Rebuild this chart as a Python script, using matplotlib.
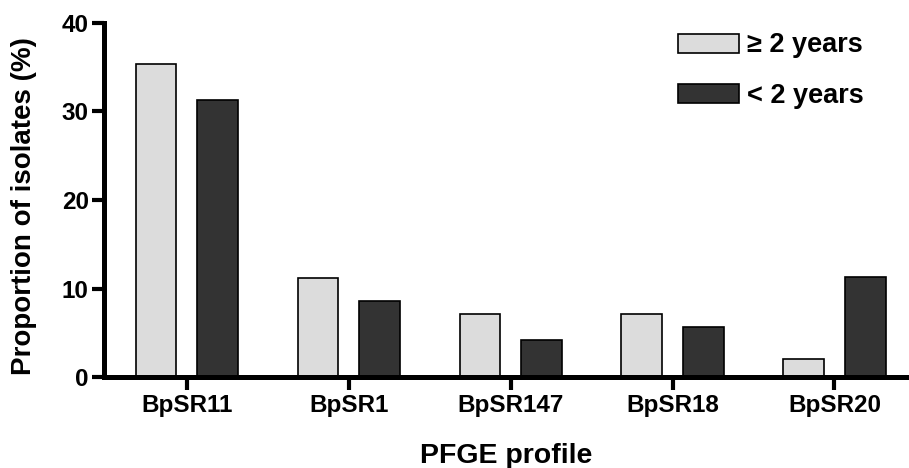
import numpy as np
import matplotlib
matplotlib.use("Agg")
import matplotlib.pyplot as plt

# -----------------------------
# Data
# -----------------------------

profiles = ["BpSR11", "BpSR1", "BpSR147", "BpSR18", "BpSR20"]
older = [35.4, 11.2, 7.1, 7.1, 2.0]     # >= 2 years
younger = [31.3, 8.6, 4.2, 5.7, 11.3]   # < 2 years
y_ticks = [0, 10, 20, 30, 40]

plt.rcParams["font.family"] = ["Liberation Sans", "DejaVu Sans"]
plt.rcParams["font.weight"] = "bold"

# -----------------------------
# Figure
# -----------------------------

fig = plt.figure(figsize=(9.09, 4.68), dpi=100)
ax = fig.add_axes([0.1144, 0.1944, 0.8856, 0.7565])

x = np.arange(len(profiles))
w = 0.25

ax.bar(x - 0.19, older, width=w, color="#dcdcdc", edgecolor="black",
       linewidth=1.2, label="\u2265 2 years", zorder=2)
ax.bar(x + 0.19, younger, width=w, color="#333333", edgecolor="black",
       linewidth=1.2, label="< 2 years", zorder=2)

ax.set_xlim(-0.51, 4.46)
ax.set_ylim(0, 40)

ax.set_xticks(x)
ax.set_xticklabels(profiles, fontsize=17.5, fontweight="bold")
ax.set_yticks(y_ticks)
ax.set_yticklabels([str(t) for t in y_ticks], fontsize=17.5, fontweight="bold")

ax.spines["top"].set_visible(False)
ax.spines["right"].set_visible(False)
ax.spines["left"].set_linewidth(3.6)
ax.spines["bottom"].set_linewidth(3.6)
ax.spines["left"].set_zorder(3)
ax.spines["bottom"].set_zorder(3)

ax.tick_params(axis="both", direction="out", length=9, width=3, pad=2)
ax.tick_params(axis="x", pad=3)

ax.set_ylabel("Proportion of isolates (%)", fontsize=20, fontweight="bold")
ax.yaxis.set_label_coords(-0.083, 0.483)
ax.set_xlabel("PFGE profile", fontsize=20.5, fontweight="bold")
ax.xaxis.set_label_coords(0.5, -0.186)

leg = ax.legend(
    loc="upper left",
    bbox_to_anchor=(678 / 909, (468 - 32.5) / 468),
    bbox_transform=fig.transFigure,
    frameon=False,
    prop={"weight": "bold", "size": 19.5},
    handlelength=2.25,
    handleheight=0.7,
    handletextpad=0.3,
    labelspacing=0.9,
    borderpad=0,
    borderaxespad=0,
)

plt.savefig("out.png", dpi=100)
print("saved")
